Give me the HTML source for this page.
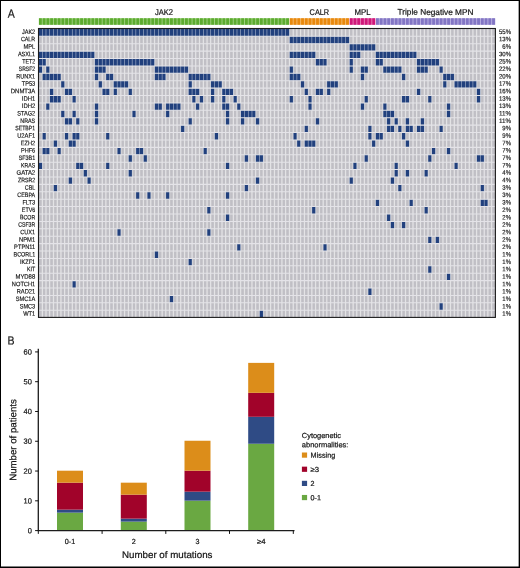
<!DOCTYPE html>
<html lang="en"><head><meta charset="utf-8"><title>Figure</title>
<style>html,body{margin:0;padding:0;background:#fff;width:520px;height:568px;overflow:hidden}text{stroke:#161616;stroke-width:0.22px;text-rendering:geometricPrecision}text.s{stroke-width:0.17px}</style></head>
<body>
<svg width="520" height="568" viewBox="0 0 520 568" style="display:block;position:absolute;left:0;top:0" font-family="'Liberation Sans', Arial, sans-serif" fill="#161616">
<rect x="0" y="0" width="520" height="568" fill="#ffffff"/>
<rect x="38.9" y="18.3" width="250.42" height="6.5" fill="#a3d384"/>
<path d="M38.95 18.3h2.85v6.5h-2.85zM42.7 18.3h2.85v6.5h-2.85zM46.44 18.3h2.85v6.5h-2.85zM50.19 18.3h2.85v6.5h-2.85zM53.93 18.3h2.85v6.5h-2.85zM57.68 18.3h2.85v6.5h-2.85zM61.42 18.3h2.85v6.5h-2.85zM65.17 18.3h2.85v6.5h-2.85zM68.91 18.3h2.85v6.5h-2.85zM72.66 18.3h2.85v6.5h-2.85zM76.4 18.3h2.85v6.5h-2.85zM80.15 18.3h2.85v6.5h-2.85zM83.89 18.3h2.85v6.5h-2.85zM87.64 18.3h2.85v6.5h-2.85zM91.38 18.3h2.85v6.5h-2.85zM95.13 18.3h2.85v6.5h-2.85zM98.87 18.3h2.85v6.5h-2.85zM102.62 18.3h2.85v6.5h-2.85zM106.36 18.3h2.85v6.5h-2.85zM110.11 18.3h2.85v6.5h-2.85zM113.85 18.3h2.85v6.5h-2.85zM117.6 18.3h2.85v6.5h-2.85zM121.34 18.3h2.85v6.5h-2.85zM125.09 18.3h2.85v6.5h-2.85zM128.83 18.3h2.85v6.5h-2.85zM132.58 18.3h2.85v6.5h-2.85zM136.32 18.3h2.85v6.5h-2.85zM140.07 18.3h2.85v6.5h-2.85zM143.81 18.3h2.85v6.5h-2.85zM147.56 18.3h2.85v6.5h-2.85zM151.3 18.3h2.85v6.5h-2.85zM155.05 18.3h2.85v6.5h-2.85zM158.79 18.3h2.85v6.5h-2.85zM162.54 18.3h2.85v6.5h-2.85zM166.28 18.3h2.85v6.5h-2.85zM170.03 18.3h2.85v6.5h-2.85zM173.77 18.3h2.85v6.5h-2.85zM177.52 18.3h2.85v6.5h-2.85zM181.26 18.3h2.85v6.5h-2.85zM185.01 18.3h2.85v6.5h-2.85zM188.75 18.3h2.85v6.5h-2.85zM192.5 18.3h2.85v6.5h-2.85zM196.24 18.3h2.85v6.5h-2.85zM199.99 18.3h2.85v6.5h-2.85zM203.73 18.3h2.85v6.5h-2.85zM207.48 18.3h2.85v6.5h-2.85zM211.22 18.3h2.85v6.5h-2.85zM214.97 18.3h2.85v6.5h-2.85zM218.71 18.3h2.85v6.5h-2.85zM222.46 18.3h2.85v6.5h-2.85zM226.2 18.3h2.85v6.5h-2.85zM229.95 18.3h2.85v6.5h-2.85zM233.69 18.3h2.85v6.5h-2.85zM237.44 18.3h2.85v6.5h-2.85zM241.18 18.3h2.85v6.5h-2.85zM244.93 18.3h2.85v6.5h-2.85zM248.67 18.3h2.85v6.5h-2.85zM252.42 18.3h2.85v6.5h-2.85zM256.16 18.3h2.85v6.5h-2.85zM259.91 18.3h2.85v6.5h-2.85zM263.65 18.3h2.85v6.5h-2.85zM267.4 18.3h2.85v6.5h-2.85zM271.15 18.3h2.85v6.5h-2.85zM274.89 18.3h2.85v6.5h-2.85zM278.64 18.3h2.85v6.5h-2.85zM282.38 18.3h2.85v6.5h-2.85zM286.13 18.3h2.85v6.5h-2.85z" fill="#5cab2f"/>
<rect x="289.82" y="18.3" width="59.42" height="6.5" fill="#f5bd72"/>
<path d="M289.87 18.3h2.85v6.5h-2.85zM293.62 18.3h2.85v6.5h-2.85zM297.36 18.3h2.85v6.5h-2.85zM301.11 18.3h2.85v6.5h-2.85zM304.85 18.3h2.85v6.5h-2.85zM308.6 18.3h2.85v6.5h-2.85zM312.34 18.3h2.85v6.5h-2.85zM316.09 18.3h2.85v6.5h-2.85zM319.83 18.3h2.85v6.5h-2.85zM323.58 18.3h2.85v6.5h-2.85zM327.32 18.3h2.85v6.5h-2.85zM331.07 18.3h2.85v6.5h-2.85zM334.81 18.3h2.85v6.5h-2.85zM338.56 18.3h2.85v6.5h-2.85zM342.3 18.3h2.85v6.5h-2.85zM346.05 18.3h2.85v6.5h-2.85z" fill="#e8880c"/>
<rect x="349.74" y="18.3" width="25.72" height="6.5" fill="#e982b8"/>
<path d="M349.79 18.3h2.85v6.5h-2.85zM353.54 18.3h2.85v6.5h-2.85zM357.28 18.3h2.85v6.5h-2.85zM361.03 18.3h2.85v6.5h-2.85zM364.77 18.3h2.85v6.5h-2.85zM368.52 18.3h2.85v6.5h-2.85zM372.26 18.3h2.85v6.5h-2.85z" fill="#cf1779"/>
<rect x="375.96" y="18.3" width="119.34" height="6.5" fill="#bcb4e3"/>
<path d="M376.01 18.3h2.85v6.5h-2.85zM379.75 18.3h2.85v6.5h-2.85zM383.5 18.3h2.85v6.5h-2.85zM387.24 18.3h2.85v6.5h-2.85zM390.99 18.3h2.85v6.5h-2.85zM394.73 18.3h2.85v6.5h-2.85zM398.48 18.3h2.85v6.5h-2.85zM402.22 18.3h2.85v6.5h-2.85zM405.97 18.3h2.85v6.5h-2.85zM409.71 18.3h2.85v6.5h-2.85zM413.46 18.3h2.85v6.5h-2.85zM417.2 18.3h2.85v6.5h-2.85zM420.95 18.3h2.85v6.5h-2.85zM424.69 18.3h2.85v6.5h-2.85zM428.44 18.3h2.85v6.5h-2.85zM432.18 18.3h2.85v6.5h-2.85zM435.93 18.3h2.85v6.5h-2.85zM439.67 18.3h2.85v6.5h-2.85zM443.42 18.3h2.85v6.5h-2.85zM447.16 18.3h2.85v6.5h-2.85zM450.91 18.3h2.85v6.5h-2.85zM454.65 18.3h2.85v6.5h-2.85zM458.4 18.3h2.85v6.5h-2.85zM462.14 18.3h2.85v6.5h-2.85zM465.89 18.3h2.85v6.5h-2.85zM469.63 18.3h2.85v6.5h-2.85zM473.38 18.3h2.85v6.5h-2.85zM477.12 18.3h2.85v6.5h-2.85zM480.87 18.3h2.85v6.5h-2.85zM484.61 18.3h2.85v6.5h-2.85zM488.36 18.3h2.85v6.5h-2.85zM492.1 18.3h2.85v6.5h-2.85z" fill="#8275c4"/>
<rect x="38.5" y="28.9" width="456.9" height="288.75" fill="#c0bfc5"/>
<path d="M41.5 28.9h1.5v288.75h-1.5zM45.24 28.9h1.5v288.75h-1.5zM48.99 28.9h1.5v288.75h-1.5zM52.73 28.9h1.5v288.75h-1.5zM56.48 28.9h1.5v288.75h-1.5zM60.22 28.9h1.5v288.75h-1.5zM63.97 28.9h1.5v288.75h-1.5zM67.71 28.9h1.5v288.75h-1.5zM71.46 28.9h1.5v288.75h-1.5zM75.2 28.9h1.5v288.75h-1.5zM78.95 28.9h1.5v288.75h-1.5zM82.69 28.9h1.5v288.75h-1.5zM86.44 28.9h1.5v288.75h-1.5zM90.18 28.9h1.5v288.75h-1.5zM93.93 28.9h1.5v288.75h-1.5zM97.67 28.9h1.5v288.75h-1.5zM101.42 28.9h1.5v288.75h-1.5zM105.16 28.9h1.5v288.75h-1.5zM108.91 28.9h1.5v288.75h-1.5zM112.65 28.9h1.5v288.75h-1.5zM116.4 28.9h1.5v288.75h-1.5zM120.14 28.9h1.5v288.75h-1.5zM123.89 28.9h1.5v288.75h-1.5zM127.63 28.9h1.5v288.75h-1.5zM131.38 28.9h1.5v288.75h-1.5zM135.12 28.9h1.5v288.75h-1.5zM138.87 28.9h1.5v288.75h-1.5zM142.61 28.9h1.5v288.75h-1.5zM146.36 28.9h1.5v288.75h-1.5zM150.1 28.9h1.5v288.75h-1.5zM153.85 28.9h1.5v288.75h-1.5zM157.59 28.9h1.5v288.75h-1.5zM161.34 28.9h1.5v288.75h-1.5zM165.08 28.9h1.5v288.75h-1.5zM168.83 28.9h1.5v288.75h-1.5zM172.57 28.9h1.5v288.75h-1.5zM176.32 28.9h1.5v288.75h-1.5zM180.06 28.9h1.5v288.75h-1.5zM183.81 28.9h1.5v288.75h-1.5zM187.55 28.9h1.5v288.75h-1.5zM191.3 28.9h1.5v288.75h-1.5zM195.04 28.9h1.5v288.75h-1.5zM198.79 28.9h1.5v288.75h-1.5zM202.53 28.9h1.5v288.75h-1.5zM206.28 28.9h1.5v288.75h-1.5zM210.02 28.9h1.5v288.75h-1.5zM213.77 28.9h1.5v288.75h-1.5zM217.51 28.9h1.5v288.75h-1.5zM221.26 28.9h1.5v288.75h-1.5zM225 28.9h1.5v288.75h-1.5zM228.75 28.9h1.5v288.75h-1.5zM232.49 28.9h1.5v288.75h-1.5zM236.24 28.9h1.5v288.75h-1.5zM239.98 28.9h1.5v288.75h-1.5zM243.73 28.9h1.5v288.75h-1.5zM247.47 28.9h1.5v288.75h-1.5zM251.22 28.9h1.5v288.75h-1.5zM254.96 28.9h1.5v288.75h-1.5zM258.71 28.9h1.5v288.75h-1.5zM262.45 28.9h1.5v288.75h-1.5zM266.2 28.9h1.5v288.75h-1.5zM269.95 28.9h1.5v288.75h-1.5zM273.69 28.9h1.5v288.75h-1.5zM277.44 28.9h1.5v288.75h-1.5zM281.18 28.9h1.5v288.75h-1.5zM284.93 28.9h1.5v288.75h-1.5zM288.67 28.9h1.5v288.75h-1.5zM292.42 28.9h1.5v288.75h-1.5zM296.16 28.9h1.5v288.75h-1.5zM299.91 28.9h1.5v288.75h-1.5zM303.65 28.9h1.5v288.75h-1.5zM307.4 28.9h1.5v288.75h-1.5zM311.14 28.9h1.5v288.75h-1.5zM314.89 28.9h1.5v288.75h-1.5zM318.63 28.9h1.5v288.75h-1.5zM322.38 28.9h1.5v288.75h-1.5zM326.12 28.9h1.5v288.75h-1.5zM329.87 28.9h1.5v288.75h-1.5zM333.61 28.9h1.5v288.75h-1.5zM337.36 28.9h1.5v288.75h-1.5zM341.1 28.9h1.5v288.75h-1.5zM344.85 28.9h1.5v288.75h-1.5zM348.59 28.9h1.5v288.75h-1.5zM352.34 28.9h1.5v288.75h-1.5zM356.08 28.9h1.5v288.75h-1.5zM359.83 28.9h1.5v288.75h-1.5zM363.57 28.9h1.5v288.75h-1.5zM367.32 28.9h1.5v288.75h-1.5zM371.06 28.9h1.5v288.75h-1.5zM374.81 28.9h1.5v288.75h-1.5zM378.55 28.9h1.5v288.75h-1.5zM382.3 28.9h1.5v288.75h-1.5zM386.04 28.9h1.5v288.75h-1.5zM389.79 28.9h1.5v288.75h-1.5zM393.53 28.9h1.5v288.75h-1.5zM397.28 28.9h1.5v288.75h-1.5zM401.02 28.9h1.5v288.75h-1.5zM404.77 28.9h1.5v288.75h-1.5zM408.51 28.9h1.5v288.75h-1.5zM412.26 28.9h1.5v288.75h-1.5zM416 28.9h1.5v288.75h-1.5zM419.75 28.9h1.5v288.75h-1.5zM423.49 28.9h1.5v288.75h-1.5zM427.24 28.9h1.5v288.75h-1.5zM430.98 28.9h1.5v288.75h-1.5zM434.73 28.9h1.5v288.75h-1.5zM438.47 28.9h1.5v288.75h-1.5zM442.22 28.9h1.5v288.75h-1.5zM445.96 28.9h1.5v288.75h-1.5zM449.71 28.9h1.5v288.75h-1.5zM453.45 28.9h1.5v288.75h-1.5zM457.2 28.9h1.5v288.75h-1.5zM460.94 28.9h1.5v288.75h-1.5zM464.69 28.9h1.5v288.75h-1.5zM468.43 28.9h1.5v288.75h-1.5zM472.18 28.9h1.5v288.75h-1.5zM475.92 28.9h1.5v288.75h-1.5zM479.67 28.9h1.5v288.75h-1.5zM483.41 28.9h1.5v288.75h-1.5zM487.16 28.9h1.5v288.75h-1.5zM490.9 28.9h1.5v288.75h-1.5z" fill="#ffffff" fill-opacity="0.3"/>
<path d="M38.5 28.9h250.92v7.4h-250.92zM289.42 36.3h59.92v7.4h-59.92zM349.34 43.71h26.22v7.4h-26.22zM38.5 51.11h56.18v7.4h-56.18zM289.42 51.11h26.22v7.4h-26.22zM349.34 51.11h11.24v7.4h-11.24zM375.56 51.11h41.2v7.4h-41.2zM38.5 58.52h7.49v7.4h-7.49zM94.68 58.52h59.92v7.4h-59.92zM315.64 58.52h11.24v7.4h-11.24zM349.34 58.52h3.75v7.4h-3.75zM375.56 58.52h7.49v7.4h-7.49zM416.75 58.52h22.47v7.4h-22.47zM38.5 65.92h3.75v7.4h-3.75zM45.99 65.92h3.75v7.4h-3.75zM94.68 65.92h11.24v7.4h-11.24zM154.6 65.92h33.71v7.4h-33.71zM289.42 65.92h3.75v7.4h-3.75zM349.34 65.92h3.75v7.4h-3.75zM360.58 65.92h7.49v7.4h-7.49zM383.05 65.92h18.73v7.4h-18.73zM416.75 65.92h11.24v7.4h-11.24zM439.22 65.92h3.75v7.4h-3.75zM42.25 73.32h18.73v7.4h-18.73zM94.68 73.32h3.75v7.4h-3.75zM105.91 73.32h7.49v7.4h-7.49zM154.6 73.32h11.24v7.4h-11.24zM188.3 73.32h22.47v7.4h-22.47zM289.42 73.32h11.24v7.4h-11.24zM360.58 73.32h3.75v7.4h-3.75zM401.77 73.32h3.75v7.4h-3.75zM442.97 73.32h11.24v7.4h-11.24zM60.97 80.73h3.75v7.4h-3.75zM98.42 80.73h3.75v7.4h-3.75zM113.4 80.73h14.98v7.4h-14.98zM188.3 80.73h3.75v7.4h-3.75zM210.77 80.73h11.24v7.4h-11.24zM300.66 80.73h3.75v7.4h-3.75zM326.87 80.73h11.24v7.4h-11.24zM442.97 80.73h3.75v7.4h-3.75zM454.2 80.73h22.47v7.4h-22.47zM49.74 88.13h3.75v7.4h-3.75zM64.72 88.13h7.49v7.4h-7.49zM102.17 88.13h7.49v7.4h-7.49zM113.4 88.13h3.75v7.4h-3.75zM128.38 88.13h3.75v7.4h-3.75zM188.3 88.13h11.24v7.4h-11.24zM210.77 88.13h3.75v7.4h-3.75zM222.01 88.13h11.24v7.4h-11.24zM304.4 88.13h3.75v7.4h-3.75zM315.64 88.13h7.49v7.4h-7.49zM326.87 88.13h3.75v7.4h-3.75zM416.75 88.13h3.75v7.4h-3.75zM476.67 88.13h3.75v7.4h-3.75zM49.74 95.53h11.24v7.4h-11.24zM72.21 95.53h3.75v7.4h-3.75zM192.05 95.53h3.75v7.4h-3.75zM199.54 95.53h3.75v7.4h-3.75zM210.77 95.53h3.75v7.4h-3.75zM222.01 95.53h3.75v7.4h-3.75zM233.24 95.53h3.75v7.4h-3.75zM289.42 95.53h3.75v7.4h-3.75zM308.15 95.53h3.75v7.4h-3.75zM364.32 95.53h3.75v7.4h-3.75zM401.77 95.53h7.49v7.4h-7.49zM427.99 95.53h3.75v7.4h-3.75zM476.67 95.53h3.75v7.4h-3.75zM45.99 102.94h3.75v7.4h-3.75zM94.68 102.94h3.75v7.4h-3.75zM154.6 102.94h7.49v7.4h-7.49zM165.83 102.94h14.98v7.4h-14.98zM195.79 102.94h3.75v7.4h-3.75zM222.01 102.94h7.49v7.4h-7.49zM236.99 102.94h3.75v7.4h-3.75zM308.15 102.94h3.75v7.4h-3.75zM360.58 102.94h3.75v7.4h-3.75zM383.05 102.94h3.75v7.4h-3.75zM446.71 102.94h3.75v7.4h-3.75zM60.97 110.34h3.75v7.4h-3.75zM72.21 110.34h3.75v7.4h-3.75zM94.68 110.34h3.75v7.4h-3.75zM132.13 110.34h3.75v7.4h-3.75zM165.83 110.34h3.75v7.4h-3.75zM225.75 110.34h3.75v7.4h-3.75zM240.73 110.34h14.98v7.4h-14.98zM383.05 110.34h11.24v7.4h-11.24zM446.71 110.34h3.75v7.4h-3.75zM64.72 117.75h7.49v7.4h-7.49zM75.95 117.75h3.75v7.4h-3.75zM94.68 117.75h3.75v7.4h-3.75zM188.3 117.75h3.75v7.4h-3.75zM225.75 117.75h3.75v7.4h-3.75zM240.73 117.75h3.75v7.4h-3.75zM255.71 117.75h3.75v7.4h-3.75zM315.64 117.75h3.75v7.4h-3.75zM386.79 117.75h3.75v7.4h-3.75zM394.28 117.75h3.75v7.4h-3.75zM405.52 117.75h3.75v7.4h-3.75zM420.5 117.75h3.75v7.4h-3.75zM180.81 125.15h3.75v7.4h-3.75zM304.4 125.15h3.75v7.4h-3.75zM368.07 125.15h3.75v7.4h-3.75zM386.79 125.15h7.49v7.4h-7.49zM398.03 125.15h3.75v7.4h-3.75zM405.52 125.15h7.49v7.4h-7.49zM416.75 125.15h7.49v7.4h-7.49zM439.22 125.15h3.75v7.4h-3.75zM42.25 132.55h3.75v7.4h-3.75zM64.72 132.55h3.75v7.4h-3.75zM72.21 132.55h7.49v7.4h-7.49zM105.91 132.55h3.75v7.4h-3.75zM214.52 132.55h3.75v7.4h-3.75zM293.17 132.55h3.75v7.4h-3.75zM368.07 132.55h3.75v7.4h-3.75zM375.56 132.55h7.49v7.4h-7.49zM401.77 132.55h3.75v7.4h-3.75zM53.48 139.96h3.75v7.4h-3.75zM68.46 139.96h7.49v7.4h-7.49zM296.91 139.96h3.75v7.4h-3.75zM304.4 139.96h11.24v7.4h-11.24zM371.81 139.96h3.75v7.4h-3.75zM405.52 139.96h3.75v7.4h-3.75zM42.25 147.36h7.49v7.4h-7.49zM57.23 147.36h3.75v7.4h-3.75zM117.15 147.36h3.75v7.4h-3.75zM135.87 147.36h7.49v7.4h-7.49zM203.28 147.36h3.75v7.4h-3.75zM431.73 147.36h3.75v7.4h-3.75zM446.71 147.36h3.75v7.4h-3.75zM128.38 154.77h3.75v7.4h-3.75zM143.36 154.77h3.75v7.4h-3.75zM244.48 154.77h3.75v7.4h-3.75zM255.71 154.77h7.49v7.4h-7.49zM364.32 154.77h3.75v7.4h-3.75zM427.99 154.77h3.75v7.4h-3.75zM476.67 154.77h7.49v7.4h-7.49zM38.5 162.17h3.75v7.4h-3.75zM75.95 162.17h7.49v7.4h-7.49zM105.91 162.17h3.75v7.4h-3.75zM225.75 162.17h3.75v7.4h-3.75zM353.09 162.17h3.75v7.4h-3.75zM394.28 162.17h3.75v7.4h-3.75zM454.2 162.17h3.75v7.4h-3.75zM83.44 169.57h3.75v7.4h-3.75zM128.38 169.57h3.75v7.4h-3.75zM394.28 169.57h3.75v7.4h-3.75zM405.52 169.57h3.75v7.4h-3.75zM424.24 169.57h3.75v7.4h-3.75zM68.46 176.98h3.75v7.4h-3.75zM87.19 176.98h3.75v7.4h-3.75zM255.71 176.98h3.75v7.4h-3.75zM349.34 176.98h3.75v7.4h-3.75zM390.54 176.98h3.75v7.4h-3.75zM53.48 184.38h3.75v7.4h-3.75zM244.48 184.38h3.75v7.4h-3.75zM398.03 184.38h3.75v7.4h-3.75zM480.42 184.38h3.75v7.4h-3.75zM135.87 191.78h3.75v7.4h-3.75zM147.11 191.78h3.75v7.4h-3.75zM165.83 191.78h3.75v7.4h-3.75zM225.75 191.78h3.75v7.4h-3.75zM375.56 199.19h3.75v7.4h-3.75zM409.26 199.19h3.75v7.4h-3.75zM480.42 199.19h7.49v7.4h-7.49zM207.03 206.59h3.75v7.4h-3.75zM311.89 206.59h3.75v7.4h-3.75zM424.24 206.59h3.75v7.4h-3.75zM225.75 214h3.75v7.4h-3.75zM386.79 214h3.75v7.4h-3.75zM390.54 221.4h3.75v7.4h-3.75zM401.77 221.4h3.75v7.4h-3.75zM117.15 228.8h3.75v7.4h-3.75zM207.03 228.8h3.75v7.4h-3.75zM427.99 236.21h3.75v7.4h-3.75zM435.48 236.21h3.75v7.4h-3.75zM236.99 243.61h3.75v7.4h-3.75zM323.13 243.61h3.75v7.4h-3.75zM154.6 251.02h3.75v7.4h-3.75zM188.3 258.42h3.75v7.4h-3.75zM427.99 265.82h3.75v7.4h-3.75zM446.71 273.23h3.75v7.4h-3.75zM72.21 280.63h3.75v7.4h-3.75zM368.07 288.03h3.75v7.4h-3.75zM169.58 295.44h3.75v7.4h-3.75zM439.22 302.84h3.75v7.4h-3.75zM259.46 310.25h3.75v7.4h-3.75z" fill="#21407d"/>
<path d="M42 28.9h0.5v288.75h-0.5zM45.74 28.9h0.5v288.75h-0.5zM49.49 28.9h0.5v288.75h-0.5zM53.23 28.9h0.5v288.75h-0.5zM56.98 28.9h0.5v288.75h-0.5zM60.72 28.9h0.5v288.75h-0.5zM64.47 28.9h0.5v288.75h-0.5zM68.21 28.9h0.5v288.75h-0.5zM71.96 28.9h0.5v288.75h-0.5zM75.7 28.9h0.5v288.75h-0.5zM79.45 28.9h0.5v288.75h-0.5zM83.19 28.9h0.5v288.75h-0.5zM86.94 28.9h0.5v288.75h-0.5zM90.68 28.9h0.5v288.75h-0.5zM94.43 28.9h0.5v288.75h-0.5zM98.17 28.9h0.5v288.75h-0.5zM101.92 28.9h0.5v288.75h-0.5zM105.66 28.9h0.5v288.75h-0.5zM109.41 28.9h0.5v288.75h-0.5zM113.15 28.9h0.5v288.75h-0.5zM116.9 28.9h0.5v288.75h-0.5zM120.64 28.9h0.5v288.75h-0.5zM124.39 28.9h0.5v288.75h-0.5zM128.13 28.9h0.5v288.75h-0.5zM131.88 28.9h0.5v288.75h-0.5zM135.62 28.9h0.5v288.75h-0.5zM139.37 28.9h0.5v288.75h-0.5zM143.11 28.9h0.5v288.75h-0.5zM146.86 28.9h0.5v288.75h-0.5zM150.6 28.9h0.5v288.75h-0.5zM154.35 28.9h0.5v288.75h-0.5zM158.09 28.9h0.5v288.75h-0.5zM161.84 28.9h0.5v288.75h-0.5zM165.58 28.9h0.5v288.75h-0.5zM169.33 28.9h0.5v288.75h-0.5zM173.07 28.9h0.5v288.75h-0.5zM176.82 28.9h0.5v288.75h-0.5zM180.56 28.9h0.5v288.75h-0.5zM184.31 28.9h0.5v288.75h-0.5zM188.05 28.9h0.5v288.75h-0.5zM191.8 28.9h0.5v288.75h-0.5zM195.54 28.9h0.5v288.75h-0.5zM199.29 28.9h0.5v288.75h-0.5zM203.03 28.9h0.5v288.75h-0.5zM206.78 28.9h0.5v288.75h-0.5zM210.52 28.9h0.5v288.75h-0.5zM214.27 28.9h0.5v288.75h-0.5zM218.01 28.9h0.5v288.75h-0.5zM221.76 28.9h0.5v288.75h-0.5zM225.5 28.9h0.5v288.75h-0.5zM229.25 28.9h0.5v288.75h-0.5zM232.99 28.9h0.5v288.75h-0.5zM236.74 28.9h0.5v288.75h-0.5zM240.48 28.9h0.5v288.75h-0.5zM244.23 28.9h0.5v288.75h-0.5zM247.97 28.9h0.5v288.75h-0.5zM251.72 28.9h0.5v288.75h-0.5zM255.46 28.9h0.5v288.75h-0.5zM259.21 28.9h0.5v288.75h-0.5zM262.95 28.9h0.5v288.75h-0.5zM266.7 28.9h0.5v288.75h-0.5zM270.45 28.9h0.5v288.75h-0.5zM274.19 28.9h0.5v288.75h-0.5zM277.94 28.9h0.5v288.75h-0.5zM281.68 28.9h0.5v288.75h-0.5zM285.43 28.9h0.5v288.75h-0.5zM289.17 28.9h0.5v288.75h-0.5zM292.92 28.9h0.5v288.75h-0.5zM296.66 28.9h0.5v288.75h-0.5zM300.41 28.9h0.5v288.75h-0.5zM304.15 28.9h0.5v288.75h-0.5zM307.9 28.9h0.5v288.75h-0.5zM311.64 28.9h0.5v288.75h-0.5zM315.39 28.9h0.5v288.75h-0.5zM319.13 28.9h0.5v288.75h-0.5zM322.88 28.9h0.5v288.75h-0.5zM326.62 28.9h0.5v288.75h-0.5zM330.37 28.9h0.5v288.75h-0.5zM334.11 28.9h0.5v288.75h-0.5zM337.86 28.9h0.5v288.75h-0.5zM341.6 28.9h0.5v288.75h-0.5zM345.35 28.9h0.5v288.75h-0.5zM349.09 28.9h0.5v288.75h-0.5zM352.84 28.9h0.5v288.75h-0.5zM356.58 28.9h0.5v288.75h-0.5zM360.33 28.9h0.5v288.75h-0.5zM364.07 28.9h0.5v288.75h-0.5zM367.82 28.9h0.5v288.75h-0.5zM371.56 28.9h0.5v288.75h-0.5zM375.31 28.9h0.5v288.75h-0.5zM379.05 28.9h0.5v288.75h-0.5zM382.8 28.9h0.5v288.75h-0.5zM386.54 28.9h0.5v288.75h-0.5zM390.29 28.9h0.5v288.75h-0.5zM394.03 28.9h0.5v288.75h-0.5zM397.78 28.9h0.5v288.75h-0.5zM401.52 28.9h0.5v288.75h-0.5zM405.27 28.9h0.5v288.75h-0.5zM409.01 28.9h0.5v288.75h-0.5zM412.76 28.9h0.5v288.75h-0.5zM416.5 28.9h0.5v288.75h-0.5zM420.25 28.9h0.5v288.75h-0.5zM423.99 28.9h0.5v288.75h-0.5zM427.74 28.9h0.5v288.75h-0.5zM431.48 28.9h0.5v288.75h-0.5zM435.23 28.9h0.5v288.75h-0.5zM438.97 28.9h0.5v288.75h-0.5zM442.72 28.9h0.5v288.75h-0.5zM446.46 28.9h0.5v288.75h-0.5zM450.21 28.9h0.5v288.75h-0.5zM453.95 28.9h0.5v288.75h-0.5zM457.7 28.9h0.5v288.75h-0.5zM461.44 28.9h0.5v288.75h-0.5zM465.19 28.9h0.5v288.75h-0.5zM468.93 28.9h0.5v288.75h-0.5zM472.68 28.9h0.5v288.75h-0.5zM476.42 28.9h0.5v288.75h-0.5zM480.17 28.9h0.5v288.75h-0.5zM483.91 28.9h0.5v288.75h-0.5zM487.66 28.9h0.5v288.75h-0.5zM491.4 28.9h0.5v288.75h-0.5z" fill="#ffffff" fill-opacity="0.75"/>
<path d="M38.5 35.78h456.9v1.05h-456.9zM38.5 43.18h456.9v1.05h-456.9zM38.5 50.59h456.9v1.05h-456.9zM38.5 57.99h456.9v1.05h-456.9zM38.5 65.39h456.9v1.05h-456.9zM38.5 72.8h456.9v1.05h-456.9zM38.5 80.2h456.9v1.05h-456.9zM38.5 87.61h456.9v1.05h-456.9zM38.5 95.01h456.9v1.05h-456.9zM38.5 102.41h456.9v1.05h-456.9zM38.5 109.82h456.9v1.05h-456.9zM38.5 117.22h456.9v1.05h-456.9zM38.5 124.62h456.9v1.05h-456.9zM38.5 132.03h456.9v1.05h-456.9zM38.5 139.43h456.9v1.05h-456.9zM38.5 146.84h456.9v1.05h-456.9zM38.5 154.24h456.9v1.05h-456.9zM38.5 161.64h456.9v1.05h-456.9zM38.5 169.05h456.9v1.05h-456.9zM38.5 176.45h456.9v1.05h-456.9zM38.5 183.86h456.9v1.05h-456.9zM38.5 191.26h456.9v1.05h-456.9zM38.5 198.66h456.9v1.05h-456.9zM38.5 206.07h456.9v1.05h-456.9zM38.5 213.47h456.9v1.05h-456.9zM38.5 220.88h456.9v1.05h-456.9zM38.5 228.28h456.9v1.05h-456.9zM38.5 235.68h456.9v1.05h-456.9zM38.5 243.09h456.9v1.05h-456.9zM38.5 250.49h456.9v1.05h-456.9zM38.5 257.89h456.9v1.05h-456.9zM38.5 265.3h456.9v1.05h-456.9zM38.5 272.7h456.9v1.05h-456.9zM38.5 280.11h456.9v1.05h-456.9zM38.5 287.51h456.9v1.05h-456.9zM38.5 294.91h456.9v1.05h-456.9zM38.5 302.32h456.9v1.05h-456.9zM38.5 309.72h456.9v1.05h-456.9z" fill="#e4e3e8"/>
<rect x="38.5" y="28.5" width="456.9" height="288.9" fill="none" stroke="#1c1c1c" stroke-width="1.1"/>
<text transform="translate(163.96 14.9) rotate(0.1)" font-size="8.4" text-anchor="middle" textLength="18.13" lengthAdjust="spacingAndGlyphs">JAK2</text>
<text transform="translate(319.38 14.9) rotate(0.1)" font-size="8.4" text-anchor="middle" textLength="19.6" lengthAdjust="spacingAndGlyphs">CALR</text>
<text transform="translate(362.45 14.9) rotate(0.1)" font-size="8.4" text-anchor="middle" textLength="16.09" lengthAdjust="spacingAndGlyphs">MPL</text>
<text transform="translate(435.48 14.9) rotate(0.1)" font-size="8.4" text-anchor="middle" textLength="75.91" lengthAdjust="spacingAndGlyphs">Triple Negative MPN</text>
<text transform="translate(35.2 33.9) rotate(0.1)" class="s" font-size="6.4" text-anchor="end" textLength="13.24" lengthAdjust="spacingAndGlyphs">JAK2</text>
<text transform="translate(511 33.9) rotate(0.1)" class="s" font-size="6.5" text-anchor="end" textLength="12.09" lengthAdjust="spacingAndGlyphs">55%</text>
<text transform="translate(35.2 41.32) rotate(0.1)" class="s" font-size="6.4" text-anchor="end" textLength="14.31" lengthAdjust="spacingAndGlyphs">CALR</text>
<text transform="translate(511 41.32) rotate(0.1)" class="s" font-size="6.5" text-anchor="end" textLength="12.09" lengthAdjust="spacingAndGlyphs">13%</text>
<text transform="translate(35.2 48.74) rotate(0.1)" class="s" font-size="6.4" text-anchor="end" textLength="11.75" lengthAdjust="spacingAndGlyphs">MPL</text>
<text transform="translate(511 48.74) rotate(0.1)" class="s" font-size="6.5" text-anchor="end" textLength="8.68" lengthAdjust="spacingAndGlyphs">6%</text>
<text transform="translate(35.2 56.16) rotate(0.1)" class="s" font-size="6.4" text-anchor="end" textLength="17.3" lengthAdjust="spacingAndGlyphs">ASXL1</text>
<text transform="translate(511 56.16) rotate(0.1)" class="s" font-size="6.5" text-anchor="end" textLength="12.09" lengthAdjust="spacingAndGlyphs">30%</text>
<text transform="translate(35.2 63.58) rotate(0.1)" class="s" font-size="6.4" text-anchor="end" textLength="12.99" lengthAdjust="spacingAndGlyphs">TET2</text>
<text transform="translate(511 63.58) rotate(0.1)" class="s" font-size="6.5" text-anchor="end" textLength="12.09" lengthAdjust="spacingAndGlyphs">25%</text>
<text transform="translate(35.2 71) rotate(0.1)" class="s" font-size="6.4" text-anchor="end" textLength="16.41" lengthAdjust="spacingAndGlyphs">SRSF2</text>
<text transform="translate(511 71) rotate(0.1)" class="s" font-size="6.5" text-anchor="end" textLength="12.09" lengthAdjust="spacingAndGlyphs">22%</text>
<text transform="translate(35.2 78.42) rotate(0.1)" class="s" font-size="6.4" text-anchor="end" textLength="19.03" lengthAdjust="spacingAndGlyphs">RUNX1</text>
<text transform="translate(511 78.42) rotate(0.1)" class="s" font-size="6.5" text-anchor="end" textLength="12.09" lengthAdjust="spacingAndGlyphs">20%</text>
<text transform="translate(35.2 85.84) rotate(0.1)" class="s" font-size="6.4" text-anchor="end" textLength="13.36" lengthAdjust="spacingAndGlyphs">TP53</text>
<text transform="translate(511 85.84) rotate(0.1)" class="s" font-size="6.5" text-anchor="end" textLength="12.09" lengthAdjust="spacingAndGlyphs">17%</text>
<text transform="translate(35.2 93.26) rotate(0.1)" class="s" font-size="6.4" text-anchor="end" textLength="24.38" lengthAdjust="spacingAndGlyphs">DNMT3A</text>
<text transform="translate(511 93.26) rotate(0.1)" class="s" font-size="6.5" text-anchor="end" textLength="12.09" lengthAdjust="spacingAndGlyphs">16%</text>
<text transform="translate(35.2 100.68) rotate(0.1)" class="s" font-size="6.4" text-anchor="end" textLength="13.46" lengthAdjust="spacingAndGlyphs">IDH1</text>
<text transform="translate(511 100.68) rotate(0.1)" class="s" font-size="6.5" text-anchor="end" textLength="12.09" lengthAdjust="spacingAndGlyphs">13%</text>
<text transform="translate(35.2 108.1) rotate(0.1)" class="s" font-size="6.4" text-anchor="end" textLength="13.46" lengthAdjust="spacingAndGlyphs">IDH2</text>
<text transform="translate(511 108.1) rotate(0.1)" class="s" font-size="6.5" text-anchor="end" textLength="12.09" lengthAdjust="spacingAndGlyphs">13%</text>
<text transform="translate(35.2 115.52) rotate(0.1)" class="s" font-size="6.4" text-anchor="end" textLength="17.95" lengthAdjust="spacingAndGlyphs">STAG2</text>
<text transform="translate(511 115.52) rotate(0.1)" class="s" font-size="6.5" text-anchor="end" textLength="12.09" lengthAdjust="spacingAndGlyphs">11%</text>
<text transform="translate(35.2 122.94) rotate(0.1)" class="s" font-size="6.4" text-anchor="end" textLength="14.96" lengthAdjust="spacingAndGlyphs">NRAS</text>
<text transform="translate(511 122.94) rotate(0.1)" class="s" font-size="6.5" text-anchor="end" textLength="12.09" lengthAdjust="spacingAndGlyphs">11%</text>
<text transform="translate(35.2 130.36) rotate(0.1)" class="s" font-size="6.4" text-anchor="end" textLength="19.95" lengthAdjust="spacingAndGlyphs">SETBP1</text>
<text transform="translate(511 130.36) rotate(0.1)" class="s" font-size="6.5" text-anchor="end" textLength="8.68" lengthAdjust="spacingAndGlyphs">9%</text>
<text transform="translate(35.2 137.78) rotate(0.1)" class="s" font-size="6.4" text-anchor="end" textLength="18.02" lengthAdjust="spacingAndGlyphs">U2AF1</text>
<text transform="translate(511 137.78) rotate(0.1)" class="s" font-size="6.5" text-anchor="end" textLength="8.68" lengthAdjust="spacingAndGlyphs">9%</text>
<text transform="translate(35.2 145.2) rotate(0.1)" class="s" font-size="6.4" text-anchor="end" textLength="14.37" lengthAdjust="spacingAndGlyphs">EZH2</text>
<text transform="translate(511 145.2) rotate(0.1)" class="s" font-size="6.5" text-anchor="end" textLength="8.68" lengthAdjust="spacingAndGlyphs">7%</text>
<text transform="translate(35.2 152.62) rotate(0.1)" class="s" font-size="6.4" text-anchor="end" textLength="14.2" lengthAdjust="spacingAndGlyphs">PHF6</text>
<text transform="translate(511 152.62) rotate(0.1)" class="s" font-size="6.5" text-anchor="end" textLength="8.68" lengthAdjust="spacingAndGlyphs">7%</text>
<text transform="translate(35.2 160.04) rotate(0.1)" class="s" font-size="6.4" text-anchor="end" textLength="16.56" lengthAdjust="spacingAndGlyphs">SF3B1</text>
<text transform="translate(511 160.04) rotate(0.1)" class="s" font-size="6.5" text-anchor="end" textLength="8.68" lengthAdjust="spacingAndGlyphs">7%</text>
<text transform="translate(35.2 167.46) rotate(0.1)" class="s" font-size="6.4" text-anchor="end" textLength="14.2" lengthAdjust="spacingAndGlyphs">KRAS</text>
<text transform="translate(511 167.46) rotate(0.1)" class="s" font-size="6.5" text-anchor="end" textLength="8.68" lengthAdjust="spacingAndGlyphs">7%</text>
<text transform="translate(35.2 174.88) rotate(0.1)" class="s" font-size="6.4" text-anchor="end" textLength="18.72" lengthAdjust="spacingAndGlyphs">GATA2</text>
<text transform="translate(511 174.88) rotate(0.1)" class="s" font-size="6.5" text-anchor="end" textLength="8.68" lengthAdjust="spacingAndGlyphs">4%</text>
<text transform="translate(35.2 182.3) rotate(0.1)" class="s" font-size="6.4" text-anchor="end" textLength="17.13" lengthAdjust="spacingAndGlyphs">ZRSR2</text>
<text transform="translate(511 182.3) rotate(0.1)" class="s" font-size="6.5" text-anchor="end" textLength="8.68" lengthAdjust="spacingAndGlyphs">4%</text>
<text transform="translate(35.2 189.72) rotate(0.1)" class="s" font-size="6.4" text-anchor="end" textLength="10.36" lengthAdjust="spacingAndGlyphs">CBL</text>
<text transform="translate(511 189.72) rotate(0.1)" class="s" font-size="6.5" text-anchor="end" textLength="8.68" lengthAdjust="spacingAndGlyphs">3%</text>
<text transform="translate(35.2 197.14) rotate(0.1)" class="s" font-size="6.4" text-anchor="end" textLength="17.93" lengthAdjust="spacingAndGlyphs">CEBPA</text>
<text transform="translate(511 197.14) rotate(0.1)" class="s" font-size="6.5" text-anchor="end" textLength="8.68" lengthAdjust="spacingAndGlyphs">3%</text>
<text transform="translate(35.2 204.56) rotate(0.1)" class="s" font-size="6.4" text-anchor="end" textLength="12.8" lengthAdjust="spacingAndGlyphs">FLT3</text>
<text transform="translate(511 204.56) rotate(0.1)" class="s" font-size="6.5" text-anchor="end" textLength="8.68" lengthAdjust="spacingAndGlyphs">3%</text>
<text transform="translate(35.2 211.98) rotate(0.1)" class="s" font-size="6.4" text-anchor="end" textLength="13.39" lengthAdjust="spacingAndGlyphs">ETV6</text>
<text transform="translate(511 211.98) rotate(0.1)" class="s" font-size="6.5" text-anchor="end" textLength="8.68" lengthAdjust="spacingAndGlyphs">2%</text>
<text transform="translate(35.2 219.4) rotate(0.1)" class="s" font-size="6.4" text-anchor="end" textLength="15.27" lengthAdjust="spacingAndGlyphs">BCOR</text>
<text transform="translate(511 219.4) rotate(0.1)" class="s" font-size="6.5" text-anchor="end" textLength="8.68" lengthAdjust="spacingAndGlyphs">2%</text>
<text transform="translate(35.2 226.82) rotate(0.1)" class="s" font-size="6.4" text-anchor="end" textLength="16.97" lengthAdjust="spacingAndGlyphs">CSF3R</text>
<text transform="translate(511 226.82) rotate(0.1)" class="s" font-size="6.5" text-anchor="end" textLength="8.68" lengthAdjust="spacingAndGlyphs">2%</text>
<text transform="translate(35.2 234.24) rotate(0.1)" class="s" font-size="6.4" text-anchor="end" textLength="15.02" lengthAdjust="spacingAndGlyphs">CUX1</text>
<text transform="translate(511 234.24) rotate(0.1)" class="s" font-size="6.5" text-anchor="end" textLength="8.68" lengthAdjust="spacingAndGlyphs">2%</text>
<text transform="translate(35.2 241.66) rotate(0.1)" class="s" font-size="6.4" text-anchor="end" textLength="16.3" lengthAdjust="spacingAndGlyphs">NPM1</text>
<text transform="translate(511 241.66) rotate(0.1)" class="s" font-size="6.5" text-anchor="end" textLength="8.68" lengthAdjust="spacingAndGlyphs">2%</text>
<text transform="translate(35.2 249.08) rotate(0.1)" class="s" font-size="6.4" text-anchor="end" textLength="21.09" lengthAdjust="spacingAndGlyphs">PTPN11</text>
<text transform="translate(511 249.08) rotate(0.1)" class="s" font-size="6.5" text-anchor="end" textLength="8.68" lengthAdjust="spacingAndGlyphs">2%</text>
<text transform="translate(35.2 256.5) rotate(0.1)" class="s" font-size="6.4" text-anchor="end" textLength="21.67" lengthAdjust="spacingAndGlyphs">BCORL1</text>
<text transform="translate(511 256.5) rotate(0.1)" class="s" font-size="6.5" text-anchor="end" textLength="8.68" lengthAdjust="spacingAndGlyphs">1%</text>
<text transform="translate(35.2 263.92) rotate(0.1)" class="s" font-size="6.4" text-anchor="end" textLength="15.17" lengthAdjust="spacingAndGlyphs">IKZF1</text>
<text transform="translate(511 263.92) rotate(0.1)" class="s" font-size="6.5" text-anchor="end" textLength="8.68" lengthAdjust="spacingAndGlyphs">1%</text>
<text transform="translate(35.2 271.34) rotate(0.1)" class="s" font-size="6.4" text-anchor="end" textLength="8.31" lengthAdjust="spacingAndGlyphs">KIT</text>
<text transform="translate(511 271.34) rotate(0.1)" class="s" font-size="6.5" text-anchor="end" textLength="8.68" lengthAdjust="spacingAndGlyphs">1%</text>
<text transform="translate(35.2 278.76) rotate(0.1)" class="s" font-size="6.4" text-anchor="end" textLength="19.74" lengthAdjust="spacingAndGlyphs">MYD88</text>
<text transform="translate(511 278.76) rotate(0.1)" class="s" font-size="6.5" text-anchor="end" textLength="8.68" lengthAdjust="spacingAndGlyphs">1%</text>
<text transform="translate(35.2 286.18) rotate(0.1)" class="s" font-size="6.4" text-anchor="end" textLength="23.33" lengthAdjust="spacingAndGlyphs">NOTCH1</text>
<text transform="translate(511 286.18) rotate(0.1)" class="s" font-size="6.5" text-anchor="end" textLength="8.68" lengthAdjust="spacingAndGlyphs">1%</text>
<text transform="translate(35.2 293.6) rotate(0.1)" class="s" font-size="6.4" text-anchor="end" textLength="18.47" lengthAdjust="spacingAndGlyphs">RAD21</text>
<text transform="translate(511 293.6) rotate(0.1)" class="s" font-size="6.5" text-anchor="end" textLength="8.68" lengthAdjust="spacingAndGlyphs">1%</text>
<text transform="translate(35.2 301.02) rotate(0.1)" class="s" font-size="6.4" text-anchor="end" textLength="19.51" lengthAdjust="spacingAndGlyphs">SMC1A</text>
<text transform="translate(511 301.02) rotate(0.1)" class="s" font-size="6.5" text-anchor="end" textLength="8.68" lengthAdjust="spacingAndGlyphs">1%</text>
<text transform="translate(35.2 308.44) rotate(0.1)" class="s" font-size="6.4" text-anchor="end" textLength="15.54" lengthAdjust="spacingAndGlyphs">SMC3</text>
<text transform="translate(511 308.44) rotate(0.1)" class="s" font-size="6.5" text-anchor="end" textLength="8.68" lengthAdjust="spacingAndGlyphs">1%</text>
<text transform="translate(35.2 315.86) rotate(0.1)" class="s" font-size="6.4" text-anchor="end" textLength="12.06" lengthAdjust="spacingAndGlyphs">WT1</text>
<text transform="translate(511 315.86) rotate(0.1)" class="s" font-size="6.5" text-anchor="end" textLength="8.68" lengthAdjust="spacingAndGlyphs">1%</text>
<text transform="translate(7.7 17.8) scale(0.87 1) rotate(0.1)" font-size="12.1">A</text>
<text transform="translate(7.6 344.4) scale(0.9 1) rotate(0.1)" font-size="11.7">B</text>
<rect x="57" y="512.63" width="26" height="17.97" fill="#6aa842"/>
<rect x="57" y="509.64" width="26" height="3" fill="#2f4b85"/>
<rect x="57" y="482.68" width="26" height="26.96" fill="#a1032a"/>
<rect x="57" y="470.7" width="26" height="11.98" fill="#dc8d1a"/>
<rect x="120.8" y="521.62" width="26" height="8.98" fill="#6aa842"/>
<rect x="120.8" y="518.62" width="26" height="3" fill="#2f4b85"/>
<rect x="120.8" y="494.66" width="26" height="23.96" fill="#a1032a"/>
<rect x="120.8" y="482.68" width="26" height="11.98" fill="#dc8d1a"/>
<rect x="184.5" y="500.65" width="26" height="29.95" fill="#6aa842"/>
<rect x="184.5" y="491.67" width="26" height="8.98" fill="#2f4b85"/>
<rect x="184.5" y="470.7" width="26" height="20.96" fill="#a1032a"/>
<rect x="184.5" y="440.75" width="26" height="29.95" fill="#dc8d1a"/>
<rect x="248.2" y="443.75" width="26" height="86.86" fill="#6aa842"/>
<rect x="248.2" y="416.79" width="26" height="26.96" fill="#2f4b85"/>
<rect x="248.2" y="392.83" width="26" height="23.96" fill="#a1032a"/>
<rect x="248.2" y="362.88" width="26" height="29.95" fill="#dc8d1a"/>
<path d="M38.3 348.8V530.6H294.5" fill="none" stroke="#1c1c1c" stroke-width="1.3"/>
<text transform="translate(31.8 533.2) rotate(0.1)" font-size="7.5" text-anchor="end" textLength="4.16" lengthAdjust="spacingAndGlyphs">0</text>
<text transform="translate(31.8 503.42) rotate(0.1)" font-size="7.5" text-anchor="end" textLength="8.31" lengthAdjust="spacingAndGlyphs">10</text>
<text transform="translate(31.8 473.64) rotate(0.1)" font-size="7.5" text-anchor="end" textLength="8.31" lengthAdjust="spacingAndGlyphs">20</text>
<text transform="translate(31.8 443.86) rotate(0.1)" font-size="7.5" text-anchor="end" textLength="8.31" lengthAdjust="spacingAndGlyphs">30</text>
<text transform="translate(31.8 414.08) rotate(0.1)" font-size="7.5" text-anchor="end" textLength="8.31" lengthAdjust="spacingAndGlyphs">40</text>
<text transform="translate(31.8 384.3) rotate(0.1)" font-size="7.5" text-anchor="end" textLength="8.31" lengthAdjust="spacingAndGlyphs">50</text>
<text transform="translate(31.8 354.52) rotate(0.1)" font-size="7.5" text-anchor="end" textLength="8.31" lengthAdjust="spacingAndGlyphs">60</text>
<path d="M35.1 530.6H38.3M35.1 500.82H38.3M35.1 471.04H38.3M35.1 441.26H38.3M35.1 411.48H38.3M35.1 381.7H38.3M35.1 351.92H38.3M38.3 530.6V533.9M102.1 530.6V533.9M165.8 530.6V533.9M229.5 530.6V533.9M293.3 530.6V533.9" fill="none" stroke="#111" stroke-width="1"/>
<text transform="translate(70 543.9) rotate(0.1)" font-size="7.4" text-anchor="middle" textLength="10.4" lengthAdjust="spacingAndGlyphs">0-1</text>
<text transform="translate(133.8 543.9) rotate(0.1)" font-size="7.4" text-anchor="middle" textLength="4" lengthAdjust="spacingAndGlyphs">2</text>
<text transform="translate(197.5 543.9) rotate(0.1)" font-size="7.4" text-anchor="middle" textLength="4" lengthAdjust="spacingAndGlyphs">3</text>
<text transform="translate(261.2 543.9) rotate(0.1)" font-size="7.4" text-anchor="middle" textLength="8.65" lengthAdjust="spacingAndGlyphs">≥4</text>
<text transform="translate(167.2 558) rotate(0.1)" font-size="9.6" text-anchor="middle" textLength="90.4" lengthAdjust="spacingAndGlyphs">Number of mutations</text>
<text transform="translate(16.3 440) rotate(-89.9)" font-size="9.6" text-anchor="middle" textLength="81.69" lengthAdjust="spacingAndGlyphs">Number of patients</text>
<text transform="translate(301.8 437.9) rotate(0.1)" font-size="7.4" textLength="39.22" lengthAdjust="spacingAndGlyphs">Cytogenetic</text>
<text transform="translate(301.8 447.2) rotate(0.1)" font-size="7.4" textLength="46.61" lengthAdjust="spacingAndGlyphs">abnormalities:</text>
<rect x="301.9" y="452.5" width="5.2" height="5.2" fill="#dc8d1a"/>
<text transform="translate(310.6 457.8) rotate(0.1)" font-size="7.4" textLength="24.63" lengthAdjust="spacingAndGlyphs">Missing</text>
<rect x="301.9" y="466.65" width="5.2" height="5.2" fill="#a1032a"/>
<text transform="translate(310.6 471.95) rotate(0.1)" font-size="7.4" textLength="8.59" lengthAdjust="spacingAndGlyphs">≥3</text>
<rect x="301.9" y="480.8" width="5.2" height="5.2" fill="#2f4b85"/>
<text transform="translate(310.6 486.1) rotate(0.1)" font-size="7.4" textLength="3.98" lengthAdjust="spacingAndGlyphs">2</text>
<rect x="301.9" y="494.95" width="5.2" height="5.2" fill="#6aa842"/>
<text transform="translate(310.6 500.25) rotate(0.1)" font-size="7.4" textLength="10.33" lengthAdjust="spacingAndGlyphs">0-1</text>
<rect x="0" y="0" width="520" height="1" fill="#000"/><rect x="0" y="0" width="1" height="568" fill="#000"/>
<rect x="518.65" y="0" width="1.35" height="568" fill="#000"/><rect x="0" y="566.5" width="520" height="1.5" fill="#000"/>
</svg>
</body></html>
